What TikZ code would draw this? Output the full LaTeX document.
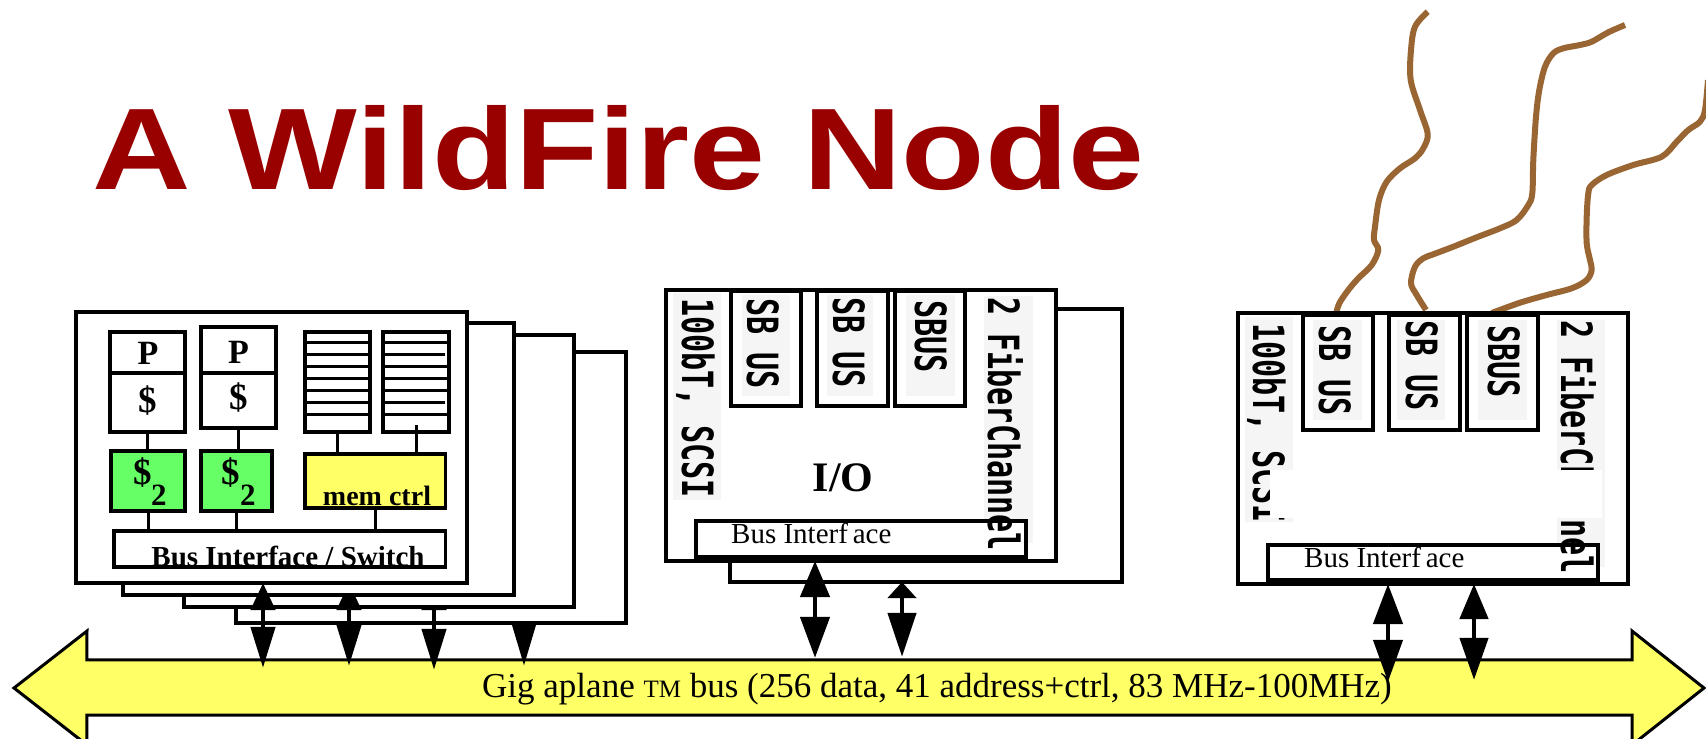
\documentclass[tikz,border=0pt]{standalone}
\usepackage{fontspec}
\setmainfont{Liberation Serif}
\newfontfamily\headfont{Liberation Sans}
\newfontfamily\pixfont{DejaVu Sans Mono}
\usetikzlibrary{arrows.meta}
\definecolor{titlered}{HTML}{990000}
\definecolor{cable}{HTML}{996633}
\definecolor{cachegreen}{HTML}{66FF66}
\definecolor{busyellow}{HTML}{FFFF66}
\definecolor{labelgray}{HTML}{F5F5F5}
\newcommand\fs[1]{\fontsize{#1}{#1}\selectfont}
% rectangle node given by its corner coordinates: style, name, x1, y1, x2, y2
\newcommand\boxnode[6]{\node[#1, minimum width={#5-#3}, minimum height={#6-#4}] (#2) at ({(#3+#5)/2},{(#4+#6)/2}) {};}
\newcommand\pixlabel[1]{\scalebox{0.70}[1]{#1}}
\begin{document}
\begin{tikzpicture}[x=1pt,y=-1pt,
  card/.style={draw, line width=3.5pt, fill=white, inner sep=0pt, outer sep=0pt},
  part/.style={draw, line width=3.2pt, fill=white, inner sep=0pt, outer sep=0pt},
  wire/.style={line width=3pt},
  cablepath/.style={draw=cable, line width=6pt, line join=round},
  pix/.style={rotate=-90, anchor=base west, inner sep=0pt, font=\pixfont\bfseries\fs{43}},
  labelbg/.style={fill=labelgray},
  txt/.style={inner sep=0pt},
  dblarrow/.style n args={4}{line width=4.5pt,
    arrows={Triangle[length=#1pt,width=#2pt]-Triangle[length=#3pt,width=#4pt]}},
  downarrow/.style n args={2}{line width=4.5pt, arrows={-Triangle[length=#1pt,width=#2pt]}},
]
\useasboundingbox (0,0) rectangle (1706,739);
\clip (0,0) rectangle (1706,739);
\fill[white] (0,0) rectangle (1706,739);

% ---------- title ----------
\node[txt, anchor=base west, text=titlered, font=\headfont\bfseries\fs{116}] (title) at (92,189)
  {\scalebox{1.176}[1]{A WildFire Node}};

% ---------- cables leaving the SBUS cards ----------
\draw[cablepath] plot[smooth, tension=0.55] coordinates {
  (1427.7,11.7) (1415,26.7) (1411,50) (1410.7,80) (1420,110) (1427.7,134)
  (1423.3,148.3) (1415,158.3) (1400,168.3) (1386.7,181.7) (1379,200)
  (1375,226.7) (1374,240) (1378.3,250) (1371.7,265) (1358.3,278.3)
  (1348.3,290) (1339.3,303.3) (1336,314)};
\draw[cablepath] plot[smooth, tension=0.55] coordinates {
  (1625,25) (1608.3,32.3) (1591.7,41.7) (1580,45) (1563.3,48.3) (1553.3,53.3)
  (1545,66.7) (1539.3,90) (1536,116.7) (1533.3,160) (1532.3,193.3) (1528.3,205)
  (1516.7,220) (1500,228.3) (1476.7,237.3) (1453.3,246.7) (1433.3,254.3)
  (1423.3,258.3) (1415,266.7) (1411,283.3) (1416.7,295) (1426,310)};
\draw[cablepath] plot[smooth, tension=0.55] coordinates {
  (1708,80) (1705,110) (1700,121.7) (1688.3,130) (1676.7,141.7) (1661.7,156.7)
  (1633.3,165) (1606.7,175) (1591.7,185) (1588.3,193.3) (1586.7,216.7)
  (1586.7,243.3) (1590,260) (1591.7,270) (1586.7,280) (1571.7,288.3)
  (1546.7,295) (1520,302.7) (1491.7,313)};

% ---------- processor board stack ----------
\boxnode{card}{card4}{236}{352}{626}{623}
\boxnode{card}{card3}{184}{335}{574}{607}
\boxnode{card}{card2}{123}{323}{514}{595}
\boxnode{card}{card1}{76}{312}{467}{583}

% processors with first level caches
\boxnode{part}{cpu1}{110}{332}{185}{432}
\boxnode{part}{cpu2}{201}{327}{276}{428}
\draw[line width=3.2pt] (cpu1.west |- 0,373) -- (cpu1.east |- 0,373);
\draw[line width=3.2pt] (cpu2.west |- 0,373) -- (cpu2.east |- 0,373);
\node[txt, font=\bfseries\fs{34}] (p1) at (148,353) {P};
\node[txt, font=\bfseries\fs{37}] (d1) at (148,401) {\$};
\node[txt, font=\bfseries\fs{34}] (p2) at (238.5,352) {P};
\node[txt, font=\bfseries\fs{37}] (d2) at (238.5,398) {\$};

% second level caches
\boxnode{part, fill=cachegreen}{l2a}{111}{451}{185}{511}
\boxnode{part, fill=cachegreen}{l2b}{201}{451}{272}{511}
\node[txt, anchor=base west, font=\bfseries\fs{37}] (l2ad) at (133,484) {\$};
\node[txt, anchor=base west, font=\bfseries\fs{31}] (l2as) at (151,505) {2};
\node[txt, anchor=base west, font=\bfseries\fs{37}] (l2bd) at (221,484) {\$};
\node[txt, anchor=base west, font=\bfseries\fs{31}] (l2bs) at (240,505) {2};

% memory banks
\boxnode{part}{mem1}{305}{332}{370}{432}
\boxnode{part}{mem2}{383}{332}{449}{432}
\foreach \yy in {342,354,366,378,390,402,414} {
  \draw[wire] (mem1.west |- 0,\yy) -- (mem1.east |- 0,\yy);
}
\foreach \yy in {342,366,378,390,414} {
  \draw[wire] (mem2.west |- 0,\yy) -- (mem2.east |- 0,\yy);
}
\foreach \yy in {354,402} {
  \draw[wire] (mem2.west |- 0,\yy) -- (445,\yy);
}

% memory controller and bus interface
\boxnode{part, fill=busyellow}{memctrl}{305}{454}{445.5}{508}
\node[txt, anchor=base, font=\bfseries\fs{28}] (memctrltxt) at (377,505) {mem ctrl};
\boxnode{part}{bisw}{114}{531}{445.5}{567}
\node[txt, anchor=base, font=\bfseries\fs{29}] (biswtxt) at (288,566) {Bus Interface / Switch};

\draw[wire] (cpu1.south) -- (cpu1.south |- l2a.north);
\draw[wire] (cpu2.south) -- (cpu2.south |- l2b.north);
\draw[wire] (l2a.south) -- (l2a.south |- bisw.north);
\draw[wire] (l2b.south) -- (l2b.south |- bisw.north);
\draw[wire] (mem1.south) -- (mem1.south |- memctrl.north);
\draw[wire] ([yshift=7pt]mem2.south) -- (mem2.south |- memctrl.north);
\draw[wire] (memctrl.south) -- (memctrl.south |- bisw.north);

% ---------- I/O board ----------
\boxnode{card}{ioback}{730}{309}{1122}{582}
\boxnode{card}{io}{666}{290}{1056}{561}
\boxnode{part}{iosb1}{731}{291}{801}{406}
\boxnode{part}{iosb2}{817}{291}{888}{406}
\boxnode{part}{iosb3}{895}{291}{965}{406}
\fill[labelbg] (673,293) rectangle (721,500);
\fill[labelbg] (742,295) rectangle (790,396);
\fill[labelbg] (827,295) rectangle (873,396);
\fill[labelbg] (906,295) rectangle (955,396);
\fill[labelbg] (984,296) rectangle (1033,543);
\boxnode{part}{iobi}{696}{521}{1026}{557}
\node[txt, anchor=base west, font=\fs{29}] (iobitxt) at (731,543) {Bus Interf\,ace};
\node[pix] (ionet) at (682,298) {\pixlabel{100bT, SCSI}};
\node[pix] (iosbt1) at (747,298) {\pixlabel{SB US}};
\node[pix] (iosbt2) at (833,297) {\pixlabel{SB US}};
\node[pix] (iosbt3) at (915,300) {\pixlabel{SBUS}};
\node[pix] (iofc) at (988,297) {\pixlabel{2 FiberChannel}};
\node[txt, anchor=base, font=\bfseries\fs{42}] (iotxt) at (843,491) {I/O};

% ---------- second I/O board ----------
\boxnode{card}{sw}{1238}{313}{1628}{584}
\boxnode{part}{swsb1}{1303}{315}{1373}{430}
\boxnode{part}{swsb2}{1389}{315}{1460}{430}
\boxnode{part}{swsb3}{1467}{315}{1538}{430}
\fill[labelbg] (1245,317) rectangle (1293,522);
\fill[labelbg] (1313,320) rectangle (1362,420);
\fill[labelbg] (1397,320) rectangle (1445,420);
\fill[labelbg] (1478,320) rectangle (1527,420);
\fill[labelbg] (1557,320) rectangle (1605,567);
\boxnode{part}{swbi}{1268}{545}{1598}{580}
\node[txt, anchor=base west, font=\fs{29}] (swbitxt) at (1304,567) {Bus Interf\,ace};
\node[pix] (swnet) at (1253,323) {\pixlabel{100bT, SCSI}};
\node[pix] (swsbt1) at (1319,325) {\pixlabel{SB US}};
\node[pix] (swsbt2) at (1406,320) {\pixlabel{SB US}};
\node[pix] (swsbt3) at (1488,325) {\pixlabel{SBUS}};
\node[pix] (swfc) at (1561,320) {\pixlabel{2 FiberChannel}};
\fill[white] (1270,470) rectangle (1602,518);

% ---------- Gigaplane bus ----------
\node[inner sep=0pt, minimum width=1545, minimum height=55] (bus) at (859.5,687.5) {};
\draw[line width=3pt, fill=busyellow, line join=miter]
  (14,688) -- (87,631) -- (bus.north west) -- (bus.north east) -- (1632,631)
  -- (1704,688) -- (1632,745) -- (bus.south east) -- (bus.south west) -- (87,745) -- cycle;
\node[txt, anchor=base west, font=\fs{35}] (bustxt) at (482,697)
  {Gig aplane {\fs{25}TM} bus (256 data, 41 address+ctrl, 83 MHz-100MHz)};

% ---------- bus connections ----------
\coordinate (xa1) at (263,0);
\coordinate (xa2) at (349,0);
\coordinate (xa3) at (434,0);
\coordinate (xa4) at (524,0);
\draw[dblarrow={27}{24}{41}{24}] (xa1 |- card1.south) -- ([yshift=-8pt]xa1 |- bus.north);
\begin{scope}
  \clip (0,595) rectangle (1706,739);
  \draw[dblarrow={27}{24}{41}{24}] (xa2 |- card1.south) -- ([yshift=-6pt]xa2 |- bus.north);
\end{scope}
\begin{scope}
  \clip (0,607) rectangle (1706,739);
  \draw[dblarrow={27}{24}{41}{24}] (xa3 |- card1.south) -- ([yshift=-10pt]xa3 |- bus.north);
\end{scope}
\draw[downarrow={43}{24}] (xa4 |- card4.south) -- ([yshift=-6pt]xa4 |- bus.north);

\coordinate (xb1) at (815,0);
\coordinate (xb2) at (902,0);
\draw[dblarrow={36}{29}{41}{29}] (xb1 |- io.south) -- ([yshift=2pt]xb1 |- bus.north);
\draw[dblarrow={16}{28}{44}{28}] (xb2 |- ioback.south) -- ([yshift=3pt]xb2 |- bus.north);

\coordinate (xc1) at (1388,0);
\coordinate (xc2) at (1474,0);
\draw[dblarrow={40}{29}{42}{29}] (xc1 |- sw.south) -- ([yshift=-22pt]xc1 |- bus.north);
\draw[dblarrow={35}{28}{42}{28}] (xc2 |- sw.south) -- ([yshift=-20pt]xc2 |- bus.north);
\end{tikzpicture}
\end{document}
